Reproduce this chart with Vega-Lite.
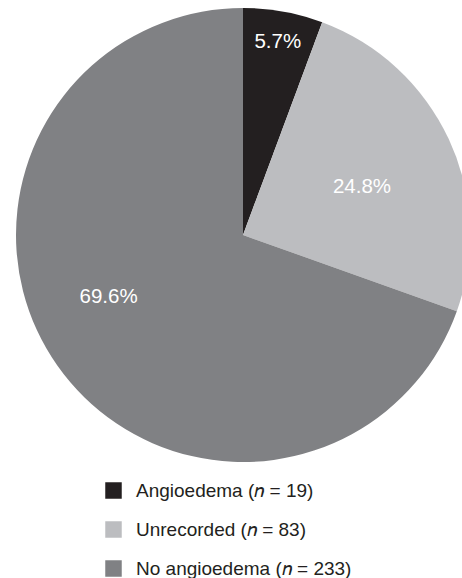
{
  "$schema": "https://vega.github.io/schema/vega-lite/v6.json",
  "width": 486,
  "height": 470,
  "autosize": "none",
  "padding": {"left": 0, "top": 0, "right": 0, "bottom": 108},
  "background": "white",
  "data": {
    "values": [
      {"category": "Angioedema", "label": "Angioedema (𝑛 = 19)", "n": 19, "order": 1, "pct": "5.7%"},
      {"category": "Unrecorded", "label": "Unrecorded (𝑛 = 83)", "n": 83, "order": 2, "pct": "24.8%"},
      {"category": "No angioedema", "label": "No angioedema (𝑛 = 233)", "n": 233, "order": 3, "pct": "69.6%"}
    ]
  },
  "transform": [
    {"stack": "n", "groupby": [], "sort": [{"field": "order", "order": "ascending"}], "as": ["s0", "s1"]},
    {"calculate": "(datum.s0 + datum.s1) / 2", "as": "mid"}
  ],
  "layer": [
    {
      "mark": {"type": "arc", "outerRadius": 227},
      "encoding": {
        "theta": {"field": "s0", "type": "quantitative", "scale": {"domain": [0, 335]}},
        "theta2": {"field": "s1"},
        "color": {
          "field": "label",
          "type": "nominal",
          "scale": {
            "domain": ["Angioedema (𝑛 = 19)", "Unrecorded (𝑛 = 83)", "No angioedema (𝑛 = 233)"],
            "range": ["#231f20", "#bcbdc0", "#808184"]
          },
          "legend": {
            "orient": "none",
            "legendX": 104,
            "legendY": 481,
            "title": null,
            "symbolType": "square",
            "symbolSize": 272,
            "symbolStrokeWidth": 0,
            "symbolOpacity": 1,
            "labelFontSize": 19,
            "labelFont": "Liberation Sans",
            "labelColor": "#231f20",
            "labelOffset": 13,
            "rowPadding": 19,
            "labelLimit": 400
          }
        }
      }
    },
    {
      "transform": [{"filter": "datum.order == 1"}],
      "mark": {"type": "text", "radius": 196, "color": "white", "font": "Liberation Sans", "fontSize": 20.5, "align": "center", "baseline": "middle"},
      "encoding": {
        "theta": {"field": "mid", "type": "quantitative", "scale": {"domain": [0, 335]}},
        "text": {"field": "pct"}
      }
    },
    {
      "transform": [{"filter": "datum.order == 2"}],
      "mark": {"type": "text", "radius": 128, "dx": 3, "dy": 6, "color": "white", "font": "Liberation Sans", "fontSize": 20.5, "align": "center", "baseline": "middle"},
      "encoding": {
        "theta": {"field": "mid", "type": "quantitative", "scale": {"domain": [0, 335]}},
        "text": {"field": "pct"}
      }
    },
    {
      "transform": [{"filter": "datum.order == 3"}],
      "mark": {"type": "text", "radius": 151, "dx": -11, "dy": -25, "color": "white", "font": "Liberation Sans", "fontSize": 20.5, "align": "center", "baseline": "middle"},
      "encoding": {
        "theta": {"field": "mid", "type": "quantitative", "scale": {"domain": [0, 335]}},
        "text": {"field": "pct"}
      }
    }
  ],
  "config": {"view": {"stroke": null}}
}
